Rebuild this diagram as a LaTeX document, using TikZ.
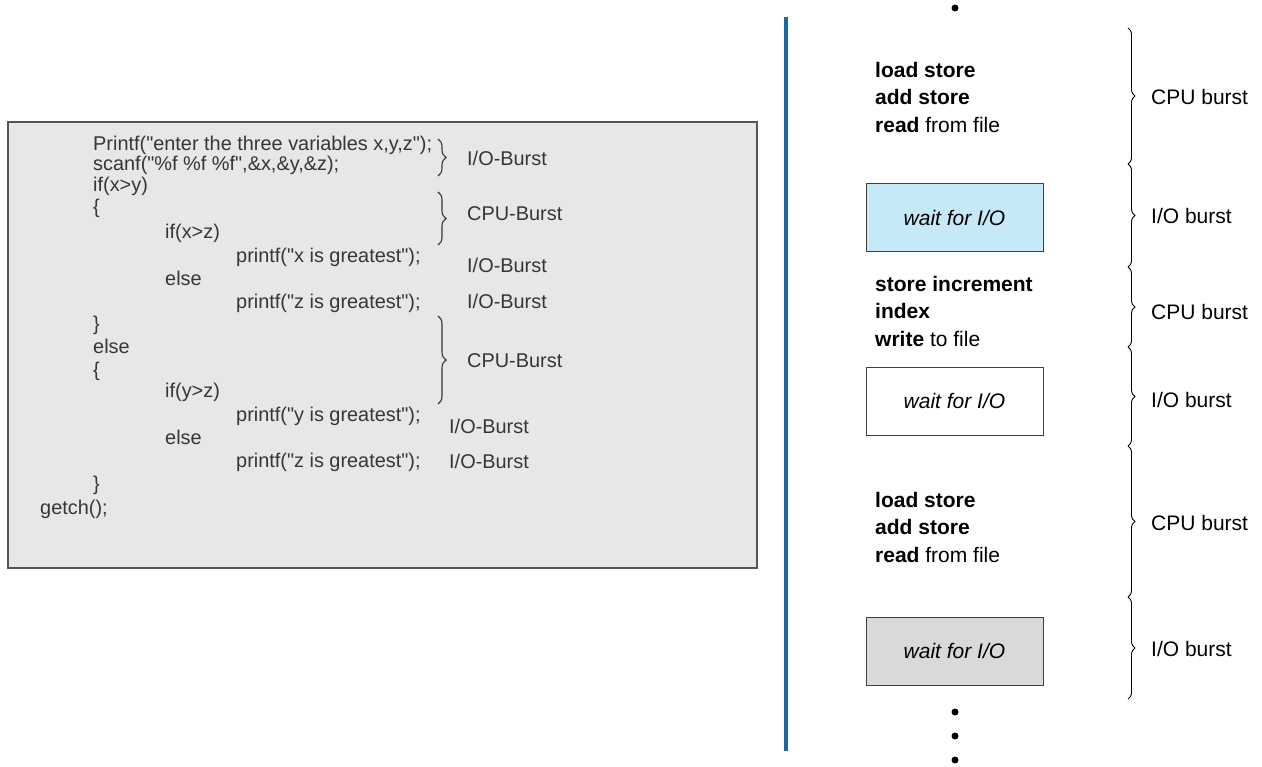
\documentclass[tikz,border=0pt]{standalone}
\usepackage{fontspec}
\setmainfont{Liberation Sans}
\newfontfamily\codefont{Liberation Sans}
\usetikzlibrary{decorations.pathreplacing}
\definecolor{codegray}{HTML}{363636}
\definecolor{panelfill}{HTML}{E6E7E7}
\definecolor{panelline}{HTML}{555555}
\definecolor{timeline}{HTML}{1A6CA0}
\definecolor{waitblue}{HTML}{C6E9F7}
\definecolor{waitgray}{HTML}{D9D9DB}
\tikzset{
  code/.style={anchor=west,inner sep=0pt,text height=0.72em,text depth=0pt,yshift=-4pt,
    font=\codefont\fontsize{19.9}{23}\selectfont,text=codegray},
  rtext/.style={anchor=west,inner sep=0pt,text height=0.72em,text depth=0pt,yshift=-4pt,
    font=\fontsize{21}{25}\selectfont,text=black},
  lbrace/.style={decorate,decoration={brace,amplitude=8pt},line width=1.1pt,draw=codegray},
  rbrace/.style={decorate,decoration={brace,amplitude=7pt},line width=0.9pt,draw=black},
  waitbox/.style={draw=black!75,line width=0.9pt,minimum width=177pt,minimum height=68pt,
    inner sep=0pt,font=\fontsize{21}{25}\selectfont\itshape},
  dot/.style={circle,fill=black,inner sep=0pt,minimum size=7pt},
}
\begin{document}
\begin{tikzpicture}[x=1pt,y=-1pt]
\useasboundingbox (0,0) rectangle (1262,767);
% left panel
\node[draw=panelline,fill=panelfill,line width=2pt,minimum width=749pt,minimum height=446pt,inner sep=0pt,anchor=north west] (panel) at (7,121) {};
\node[code] (c1) at (93,143) {Printf("enter the three variables x,y,z");};
\node[code] (c2) at (93,163) {scanf("\%f \%f \%f",\&x,\&y,\&z);};
\node[code] (c3) at (93,184) {if(x>y)};
\node[code] (c4) at (93,206) {\{};
\node[code] (c5) at (165,231) {if(x>z)};
\node[code] (c6) at (236,255) {printf("x is greatest");};
\node[code] (c7) at (165,278) {else};
\node[code] (c8) at (236,301) {printf("z is greatest");};
\node[code] (c9) at (93,323) {\}};
\node[code] (c10) at (93,346) {else};
\node[code] (c11) at (93,369) {\{};
\node[code] (c12) at (165,390) {if(y>z)};
\node[code] (c13) at (236,414) {printf("y is greatest");};
\node[code] (c14) at (165,437) {else};
\node[code] (c15) at (236,460) {printf("z is greatest");};
\node[code] (c16) at (93,483) {\}};
\node[code] (c17) at (40,507) {getch();};
% left braces
\coordinate (lb1a) at (438,139); \coordinate (lb1b) at (438,176);
\coordinate (lb2a) at (438,192); \coordinate (lb2b) at (438,245);
\coordinate (lb3a) at (438,316); \coordinate (lb3b) at (438,404);
\draw[lbrace] (lb1a) -- (lb1b);
\draw[lbrace] (lb2a) -- (lb2b);
\draw[lbrace] (lb3a) -- (lb3b);
\node[code] (l1) at (467,158) {I/O-Burst};
\node[code] (l2) at (467,213) {CPU-Burst};
\node[code] (l3) at (467,265) {I/O-Burst};
\node[code] (l4) at (467,301) {I/O-Burst};
\node[code] (l5) at (467,360) {CPU-Burst};
\node[code] (l6) at (449,426) {I/O-Burst};
\node[code] (l7) at (449,461) {I/O-Burst};
% timeline
\coordinate (tla) at (786,17); \coordinate (tlb) at (786,751);
\draw[timeline,line width=3.5pt] (tla) -- (tlb);
\node[dot] (d0) at (955,8) {};
\node[dot] (d1) at (955,712) {};
\node[dot] (d2) at (955,736) {};
\node[dot] (d3) at (955,760) {};
% right texts
\node[rtext] (r1) at (875,70) {\textbf{load store}};
\node[rtext] (r2) at (875,97) {\textbf{add store}};
\node[rtext] (r3) at (875,125) {\textbf{read} from file};
\node[waitbox,fill=waitblue] (w1) at (954.5,217.5) {wait for I/O};
\node[rtext] (r4) at (875,284) {\textbf{store increment}};
\node[rtext] (r5) at (875,311) {\textbf{index}};
\node[rtext] (r6) at (875,339) {\textbf{write} to file};
\node[waitbox,fill=white] (w2) at (954.5,401) {wait for I/O};
\node[rtext] (r7) at (875,500) {\textbf{load store}};
\node[rtext] (r8) at (875,527) {\textbf{add store}};
\node[rtext] (r9) at (875,555) {\textbf{read} from file};
\node[waitbox,fill=waitgray] (w3) at (954.5,651) {wait for I/O};
% right braces
\coordinate (rb0) at (1128,28);
\coordinate (rb1) at (1128,164);
\coordinate (rb2) at (1128,267);
\coordinate (rb3) at (1128,347);
\coordinate (rb4) at (1128,446);
\coordinate (rb5) at (1128,597);
\coordinate (rb6) at (1128,699);
\draw[rbrace] (rb0) -- (rb1);
\draw[rbrace] (rb1) -- (rb2);
\draw[rbrace] (rb2) -- (rb3);
\draw[rbrace] (rb3) -- (rb4);
\draw[rbrace] (rb4) -- (rb5);
\draw[rbrace] (rb5) -- (rb6);
\node[rtext] (b1) at (1151,97) {CPU burst};
\node[rtext] (b2) at (1151,216) {I/O burst};
\node[rtext] (b3) at (1151,312) {CPU burst};
\node[rtext] (b4) at (1151,400) {I/O burst};
\node[rtext] (b5) at (1151,523) {CPU burst};
\node[rtext] (b6) at (1151,649) {I/O burst};
\end{tikzpicture}
\end{document}
